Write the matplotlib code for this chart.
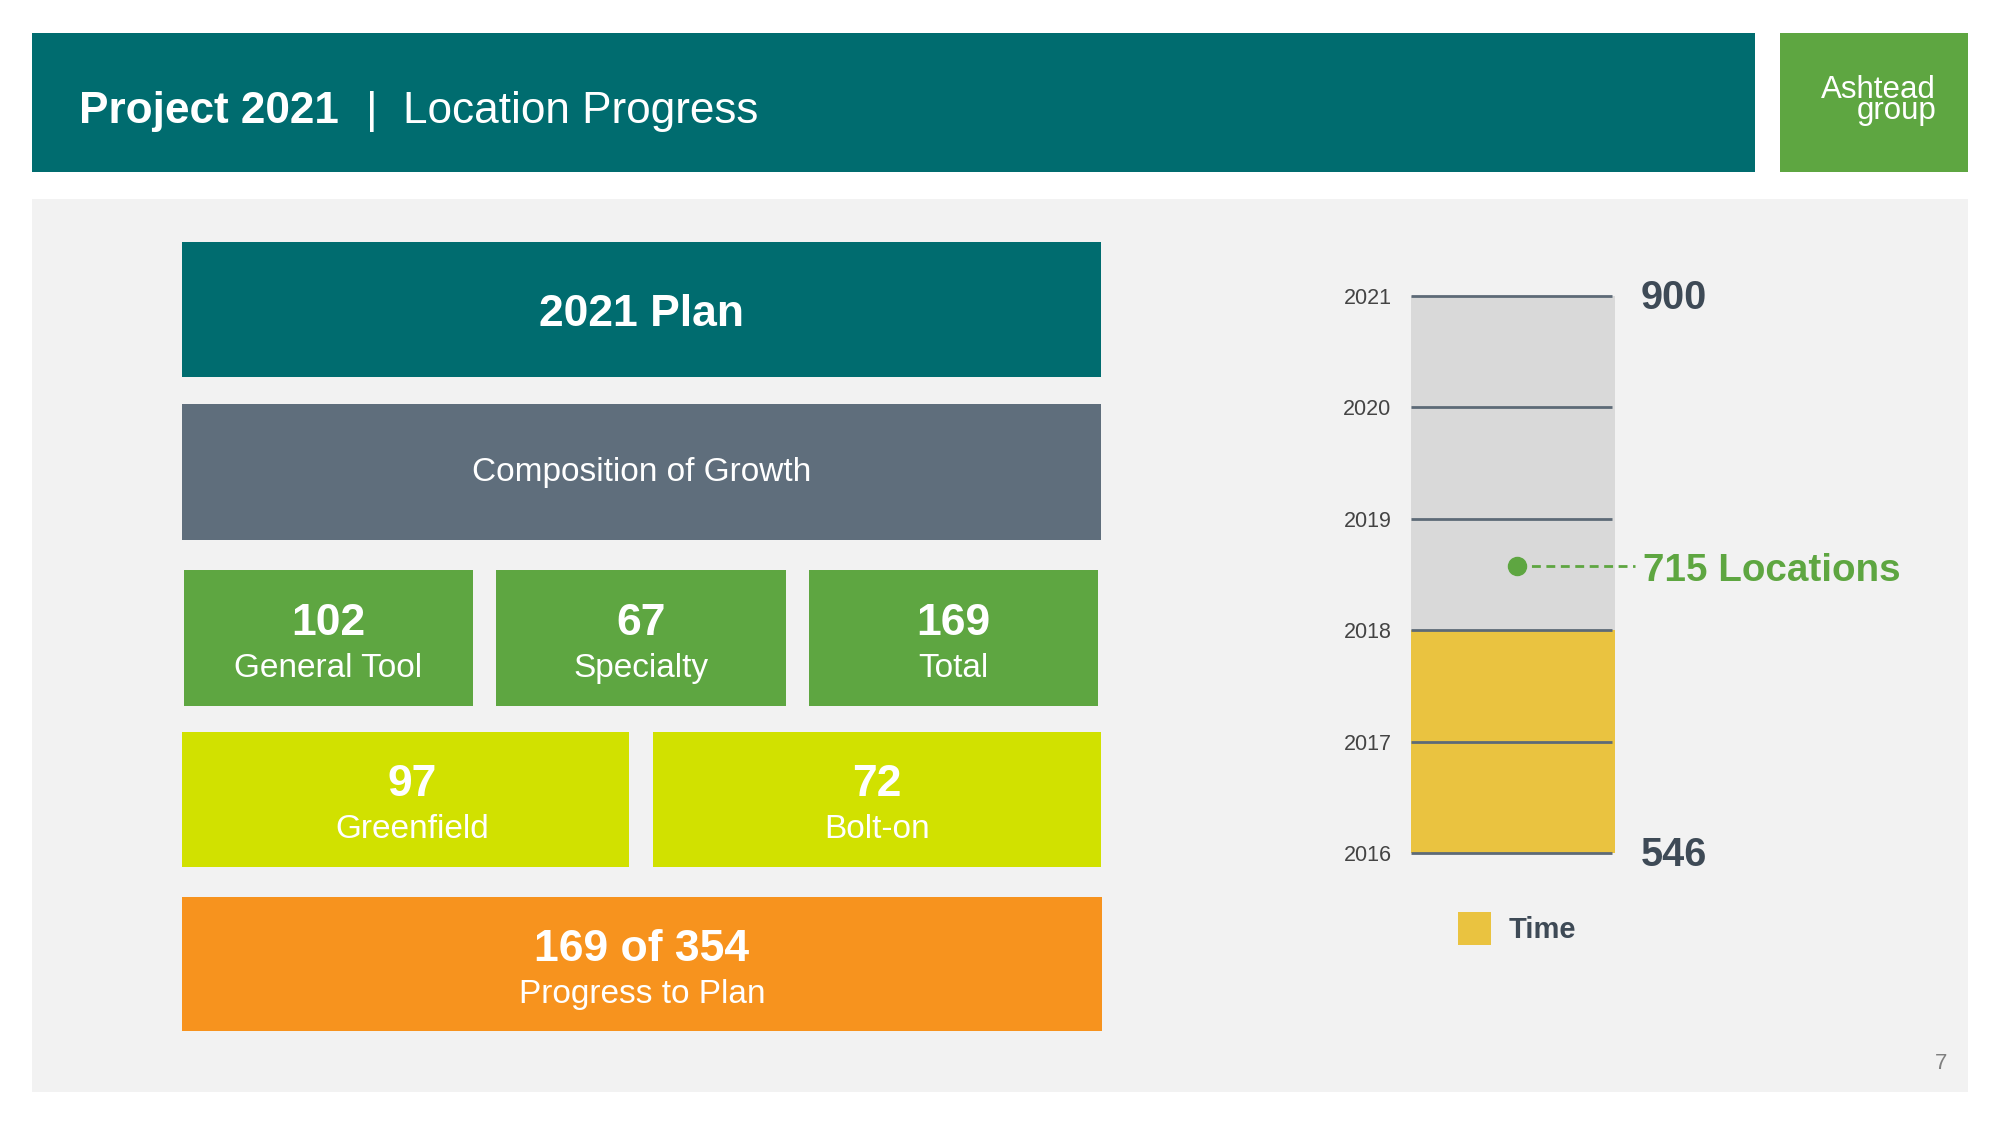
import matplotlib
matplotlib.use("Agg")
import matplotlib.pyplot as plt
from matplotlib.patches import Rectangle

plt.rcParams['font.family'] = ['Liberation Sans', 'DejaVu Sans']

# ---------------- data ----------------
title_bold = "Project 2021"
title_rest = "Location Progress"
logo_text = "Ashtead\ngroup"
plan_title = "2021 Plan"
composition_title = "Composition of Growth"
growth_labels = ["General Tool", "Specialty", "Total"]
growth_values = [102, 67, 169]
type_labels = ["Greenfield", "Bolt-on"]
type_values = [97, 72]
progress_done = 169
progress_target = 354
progress_label = "Progress to Plan"

years = [2016, 2017, 2018, 2019, 2020, 2021]
elapsed_until = 2018
start_locations = 546
target_locations = 900
current_locations = 715
current_marker_year = 2018.58
legend_label = "Time"
page_number = "7"

# ---------------- colours ----------------
TEAL = "#006C6F"
GREEN = "#5EA641"
LIME = "#D1E100"
ORANGE = "#F7931E"
SLATE = "#5F6E7C"
PANEL = "#F2F2F2"
BARGRAY = "#D9D9D9"
YELLOW = "#EAC340"
DARK = "#3E4A56"
GRID = "#5D6A77"

W, H = 2000, 1125
fig = plt.figure(figsize=(20, 11.25), dpi=100)
fig.patch.set_facecolor("white")
bg = fig.add_axes([0, 0, 1, 1])
bg.set_xlim(0, W)
bg.set_ylim(H, 0)
bg.axis("off")


def rect(x0, y0, x1, y1, color, z=1):
    bg.add_patch(Rectangle((x0, y0), x1 - x0, y1 - y0, facecolor=color,
                           edgecolor="none", zorder=z))


# header
rect(32, 33, 1755, 172, TEAL)
rect(1780, 33, 1968, 172, GREEN)
bg.text(79, 123, title_bold, color="white", fontsize=31.8, fontweight="bold",
        va="baseline", ha="left")
bg.text(366, 123, "|", color="white", fontsize=32, va="baseline", ha="left")
bg.text(403, 123, title_rest, color="white", fontsize=31.8, va="baseline",
        ha="left")
# logo (single text, two tightly packed lines; baseline of last line)
bg.text(1936, 119, logo_text, color="white", fontsize=22.5, va="baseline",
        ha="right", multialignment="right", linespacing=0.62)

# panel
rect(32, 199, 1968, 1092, PANEL, z=0)
bg.text(1941, 1069, page_number, color="#808080", fontsize=16, ha="center",
        va="baseline")

# single-line boxes
rect(182, 242, 1101, 377, TEAL)
bg.text((182 + 1101) / 2, 326, plan_title, color="white", fontsize=32,
        fontweight="bold", ha="center", va="baseline")
rect(182, 404, 1101, 540, SLATE)
bg.text((182 + 1101) / 2, 481, composition_title, color="white", fontsize=24,
        ha="center", va="baseline")


def two_line(x0, y0, x1, y1, color, value, label, dx=0):
    rect(x0, y0, x1, y1, color)
    cx = (x0 + x1) / 2 + dx
    cy = (y0 + y1) / 2
    bg.text(cx, cy - 3, str(value), color="white", fontsize=32,
            fontweight="bold", ha="center", va="baseline")
    bg.text(cx, cy + 39, label, color="white", fontsize=24, ha="center",
            va="baseline")


green_x = [(184, 473), (496, 786), (809, 1098)]
for (x0, x1), v, lab in zip(green_x, growth_values, growth_labels):
    two_line(x0, 570, x1, 706, GREEN, v, lab)

lime_x = [(182, 629), (653, 1101)]
lime_dx = [7, 0]
for (x0, x1), v, lab, dx in zip(lime_x, type_values, type_labels, lime_dx):
    two_line(x0, 732, x1, 867, LIME, v, lab, dx)

two_line(182, 897, 1102, 1031, ORANGE,
         f"{progress_done} of {progress_target}", progress_label)

# ---------------- right chart ----------------
x0p, x1p, ytop, ybot = 1411, 1615, 296, 853
ax = fig.add_axes([x0p / W, 1 - ybot / H, (x1p - x0p) / W, (ybot - ytop) / H])
ax.set_xlim(0, 1)
ax.set_ylim(years[0], years[-1])
ax.patch.set_alpha(0)
for s in ax.spines.values():
    s.set_visible(False)
ax.bar(0.5, years[-1] - years[0], bottom=years[0], width=1.0, color=BARGRAY,
       zorder=1)
ax.bar(0.5, elapsed_until - years[0], bottom=years[0], width=1.0,
       color=YELLOW, zorder=2)
ax.hlines(years, 0, 0.985, color=GRID, lw=2, zorder=3, clip_on=False)
ax.set_xticks([])
ax.set_yticks(years)
ax.set_yticklabels([str(y) for y in years], fontsize=15.5, color="#444444")
ax.tick_params(axis="y", length=0, pad=14)

ax.text(1.127, years[-1] - 0.02, str(target_locations), fontsize=28.5,
        fontweight="bold", color=DARK, ha="left", va="center", clip_on=False)
ax.text(1.127, years[0] - 0.02, str(start_locations), fontsize=28.5,
        fontweight="bold", color=DARK, ha="left", va="center", clip_on=False)

ax.plot([0.52, 1.10], [current_marker_year, current_marker_year],
        color=GREEN, lw=2, dashes=(3.2, 2.0), clip_on=False, zorder=4)
ax.plot(0.52, current_marker_year, "o", color=GREEN, ms=13, zorder=5,
        clip_on=False)
ax.text(1.135, current_marker_year - 0.045, f"{current_locations} Locations",
        fontsize=27.8, fontweight="bold", color=GREEN, ha="left",
        va="center", clip_on=False)

# legend
rect(1458, 912, 1491, 945, YELLOW)
bg.text(1509, 930, legend_label, fontsize=21, fontweight="bold", color=DARK,
        ha="left", va="center")

fig.savefig("out.png", dpi=100, facecolor="white")
